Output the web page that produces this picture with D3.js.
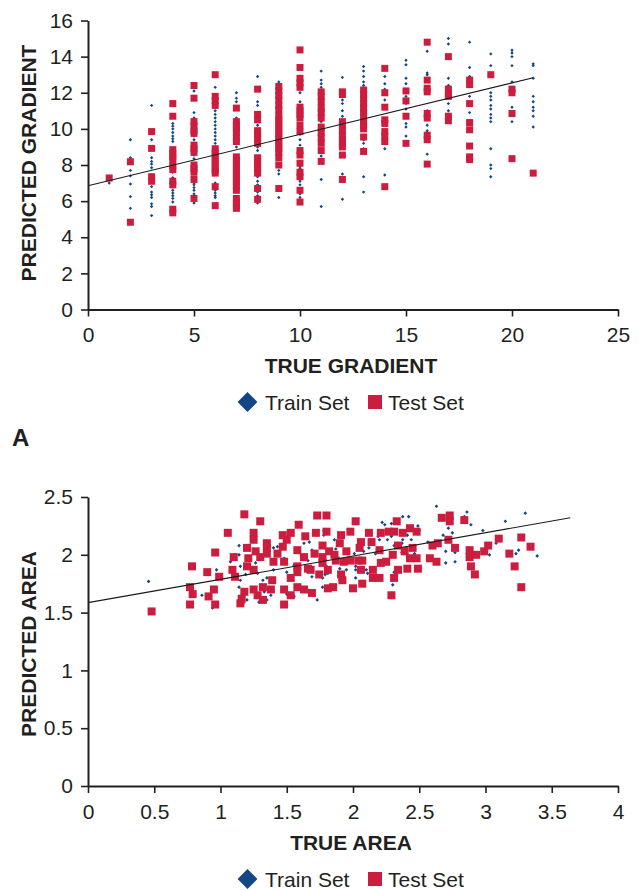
<!DOCTYPE html>
<html><head><meta charset="utf-8">
<script src="https://cdn.jsdelivr.net/npm/d3@7"></script>
<style>
body{margin:0;background:#fff;}
text{font-family:"Liberation Sans",Arial,Helvetica,sans-serif;fill:#231f20;}
</style></head>
<body><svg id="c" width="641" height="890"></svg>
<script>
// ---------- Panel A data ----------
const gradCols = [1,2,3,4,5,6,7,8,9,10,11,12,13,14,15,16,17,18,19,20,21];
const gradTrain = [
 [7.0],
 [9.4,8.4,7.7,7.4,6.95,6.25,5.6],
 [11.3,9.4,8.4,8.2,8.05,7.85,7.45,6.8,6.5,6.35,6.2,5.85,5.7,5.2],
 [10.3,10.15,10.0,9.8,9.6,9.45,9.3,8.7,8.4,8.1,7.6,7.3,6.6,6.45,6.3,6.15,5.95],
 [12.1,10.9,10.6,10.2,9.6,9.4,9.0,8.55,8.35,7.5,7.0,6.9,6.75,6.6,6.4,5.9],
 [12.3,11.2,11.0,10.8,10.6,10.4,10.2,10.0,9.8,9.6,9.4,9.2,9.0,7.5,7.0,6.6,6.45,6.3,6.2],
 [12.0,11.7,11.5,10.6,10.3,9.0,8.2,6.0,5.8],
 [12.9,11.5,11.3,10.2,9.6,9.0,8.8,7.35,7.1,6.9,6.7,6.5,6.3,6.1,5.9],
 [12.6,12.4,11.6,9.0,7.7,7.5,6.2],
 [12.9,12.0,11.5,10.9,10.5,10.0,9.7,9.4,9.1,8.2,7.9,7.8,7.1,6.9,6.4,6.2],
 [13.2,12.7,12.5,12.3,11.9,10.4,9.5,8.5,7.2,5.7],
 [12.85,11.6,11.4,11.0,10.7,9.0,8.6,7.5,6.1],
 [13.45,13.2,12.9,12.6,12.4,9.4,9.2,8.9,7.35,6.5],
 [12.9,12.5,12.2,11.6,9.6,9.2,8.9,7.45],
 [13.8,13.55,12.8,12.5,12.2,11.8,11.4,11.1,10.3,10.1,9.6],
 [14.3,13.1,13.0,11.0,10.2,9.9,8.6],
 [15.0,14.7,12.8,12.4,12.2,11.9,11.4,11.0,10.8],
 [14.8,13.4,12.9,11.8,10.9],
 [14.15,13.5,12.0,11.8,11.6,11.3,11.1,10.8,10.6,10.4,8.9,8.0,7.8,7.35],
 [14.35,14.2,14.0,13.5,12.6,11.2,10.4],
 [13.6,13.5,12.8,11.8,11.5,11.2,11.0,10.7,10.1]
];
const gradTest = [
 [7.28],
 [8.18,4.83],
 [9.85,8.92,7.35,7.1],
 [11.4,10.7,8.85,8.65,8.45,8.3,7.95,7.75,7.1,6.9,5.55,5.35],
 [12.4,11.7,10.4,10.15,9.9,9.75,9.1,8.9,8.7,8.0,7.8,7.6,7.2,6.15],
 [13.0,11.8,11.55,11.3,8.9,8.7,8.5,8.3,8.1,7.9,7.7,7.55,6.8,5.75],
 [11.15,10.4,10.2,10.0,9.8,9.5,9.3,8.45,8.25,8.05,7.85,7.65,7.45,7.25,7.05,6.85,6.6,6.15,5.95,5.75,5.6],
 [12.2,10.8,10.5,9.9,9.7,9.5,9.2,8.4,8.2,8.0,7.8,7.55,6.7,6.1],
 [12.35,12.1,11.85,11.6,11.3,11.05,10.7,10.5,10.3,10.1,9.9,9.7,9.5,9.3,9.1,8.9,8.7,8.4,8.0,6.7],
 [14.37,13.4,12.8,12.55,12.3,11.2,11.0,10.8,10.6,10.2,9.85,8.8,8.55,8.1,7.6,7.35,6.6,5.95],
 [12.05,11.8,11.5,11.15,10.9,10.6,10.1,9.8,9.5,9.2,8.8,8.2],
 [12.05,11.9,10.4,10.2,9.9,9.65,9.4,9.2,9.0,8.55,7.2],
 [12.15,11.9,11.65,11.4,11.15,10.9,10.65,10.4,10.2,10.0,9.55,8.75],
 [13.35,12.0,11.2,10.5,10.3,9.85,9.6,9.3,6.8],
 [12.1,11.55,10.7,9.2],
 [14.8,12.7,12.25,12.05,10.85,10.6,9.65,9.4,8.05],
 [14.0,12.2,11.95,11.8,10.7,10.45],
 [12.7,12.45,11.4,10.35,9.95,9.05,8.45,8.3],
 [13.0],
 [12.2,12.0,10.85,8.35],
 [7.55]
];
const gradTrend = [[0,6.85],[21,12.83]];
const gradXTicks = [0,5,10,15,20,25];
const gradYTicks = [0,2,4,6,8,10,12,14,16];

// ---------- Panel B data ----------
const areaTrain = [
 [0.457,1.77],[0.86,1.65],[0.94,1.54],[0.97,1.87],[1.075,1.94],[1.14,2.08],[1.14,2.00],[1.15,1.90],[1.19,1.83],[1.15,1.78],
 [1.14,1.72],[1.265,1.93],[1.28,1.84],[1.32,1.78],[1.35,1.80],[1.40,1.87],[1.43,2.07],[1.40,2.06],[1.33,1.68],[1.35,1.61],
 [1.29,1.59],[1.20,1.61],[1.17,1.58],[1.48,1.97],[1.555,1.91],[1.66,1.95],[1.69,2.04],[1.63,2.10],[1.67,2.11],[1.78,2.21],
 [1.80,1.90],[1.81,1.84],[1.77,1.72],[1.69,1.81],[1.73,1.61],[1.555,1.64],[1.50,1.66],[1.38,1.65],[1.50,1.85],[1.21,2.08],
 [2.63,2.42],[2.86,2.37],[2.84,2.33],[3.30,2.36],[3.15,2.29],[2.98,2.21],[2.89,2.26],[2.75,2.19],[2.72,2.23],[2.68,2.17],
 [2.50,2.21],[2.49,2.25],[2.49,2.18],[2.375,2.33],[2.42,2.33],[2.29,2.27],[2.24,2.26],[2.22,2.28],[2.20,2.13],[2.19,2.16],
 [2.26,2.13],[2.29,2.16],[2.41,2.17],[2.44,2.13],[2.375,2.13],[2.565,2.11],[2.70,2.03],[2.77,2.02],[2.70,1.93],[2.77,1.94],
 [2.88,2.03],[3.03,2.00],[3.08,2.10],[3.23,2.01],[3.25,2.04],[3.39,1.99],[2.31,2.08],[2.37,2.10],[2.40,2.06],[2.37,2.02],
 [2.465,2.01],[2.01,2.01],[2.06,2.10],[2.12,2.06],[2.17,2.01],[1.78,2.17],[1.86,2.13],[1.87,2.05],[1.90,1.88],[1.95,1.87],
 [1.96,1.93],[1.77,1.80],[1.79,1.83],[2.02,1.90],[2.02,1.87],[2.08,2.03],[2.31,1.85],[2.33,1.84],[2.30,1.74],[2.02,1.80],
 [1.90,1.78],[1.92,1.78],[1.82,1.70],[2.11,1.84],[2.10,1.87]
];
const areaTest = [
 [0.48,1.51],[1.18,2.35],[1.30,2.29],[1.055,2.19],[0.96,2.02],[0.785,1.90],[0.90,1.85],[0.99,1.81],[1.09,1.87],[1.11,1.81],
 [0.77,1.72],[0.79,1.66],[0.77,1.57],[0.95,1.70],[0.91,1.64],[0.96,1.57],[1.18,1.68],[1.16,1.62],[1.28,1.65],[1.32,1.72],
 [1.39,1.78],[1.48,1.57],[1.48,1.70],[1.53,1.65],[1.58,1.72],[1.63,1.70],[1.69,1.67],[1.53,1.80],[1.58,1.85],[1.68,1.87],
 [1.745,1.83],[1.25,2.19],[1.25,2.13],[1.35,2.10],[1.20,2.06],[1.265,2.03],[1.30,1.98],[1.35,2.01],[1.21,1.97],[1.20,1.90],
 [1.25,1.87],[1.43,2.01],[1.47,2.07],[1.47,2.17],[1.53,2.19],[1.50,2.13],[1.59,2.26],[1.64,2.16],[1.72,2.19],[1.73,2.34],
 [1.58,2.04],[1.63,1.98],[1.71,2.01],[1.77,2.08],[1.77,1.98],[1.40,1.94],[1.48,1.94],[1.58,1.90],[1.66,1.88],[1.25,1.70],
 [1.15,1.58],[1.32,1.61],[1.38,1.70],[1.10,1.98],[1.35,2.06],
 [1.80,2.34],[1.80,2.20],[2.02,2.29],[1.98,2.20],[1.91,2.17],[1.90,2.10],[1.82,2.03],[1.86,2.00],[1.95,2.03],[2.06,2.11],
 [2.05,2.06],[2.12,2.19],[2.14,2.11],[2.20,2.04],[2.21,2.19],[2.27,2.20],[2.31,2.20],[2.33,2.29],[2.375,2.19],[2.43,2.23],
 [2.48,2.20],[2.34,2.08],[2.45,2.06],[1.77,1.93],[1.87,1.95],[1.93,1.94],[1.98,1.95],[2.04,1.95],[2.07,1.95],[1.81,1.87],
 [1.91,1.83],[1.92,1.78],[2.06,1.87],[2.15,1.87],[2.15,1.80],[2.20,1.80],[2.21,1.93],[2.25,1.94],[2.30,2.00],[2.39,2.03],
 [2.34,1.87],[2.31,1.80],[2.43,1.97],[2.41,1.88],[2.48,1.97],[2.49,1.88],[2.58,1.97],[2.63,1.94],[2.60,2.08],[2.64,2.10],
 [2.67,2.32],[2.73,2.34],[2.73,2.29],[2.72,2.13],[2.77,2.06],[2.84,2.30],[1.81,1.71],[1.85,1.72],[2.00,1.71],[2.07,1.75],
 [2.29,1.65],[2.88,2.04],[2.88,1.98],[2.93,2.00],[2.99,2.03],[3.02,2.08],[3.10,2.14],[2.89,1.90],[2.92,1.83],[3.18,2.01],
 [3.22,1.90],[3.27,2.15],[3.34,2.07],[3.27,1.72]
];
const areaTrend = [[0,1.586],[3.64,2.32]];
const areaXTicks = [0,0.5,1,1.5,2,2.5,3,3.5,4];
const areaYTicks = [0,0.5,1,1.5,2,2.5];
const legendLabels = ["Train Set","Test Set"];

// ---------- drawing ----------
const TRAIN = "#124784", TEST = "#cc1d3f", INK = "#231f20";
const FS = 21;
const svg = d3.select("#c");

function panel(opt){
  const g = svg.append("g");
  const x = d3.scaleLinear().domain(opt.xDom).range([88,618]);
  const y = d3.scaleLinear().domain(opt.yDom).range(opt.yRange);
  const yb = opt.yRange[0];

  // train points (small diamonds)
  const ds = opt.dot;
  g.append("g").selectAll("rect").data(opt.train).join("rect")
    .attr("x", -ds/2).attr("y", -ds/2).attr("width", ds).attr("height", ds)
    .attr("transform", d=>`translate(${x(d[0])},${y(d[1])}) rotate(45)`)
    .attr("fill", TRAIN);
  // test points
  const s = opt.sq;
  g.append("g").selectAll("rect").data(opt.test).join("rect")
    .attr("x", d=>x(d[0])-s/2).attr("y", d=>y(d[1])-s/2)
    .attr("width", s).attr("height", s).attr("fill", TEST);
  // trend
  g.append("path").datum(opt.trend)
    .attr("d", d3.line().x(d=>x(d[0])).y(d=>y(d[1])))
    .attr("stroke", "#1a1a1a").attr("stroke-width", 1.1).attr("fill","none");

  // axes
  const ax = g.append("g").attr("transform",`translate(0,${yb})`)
    .call(d3.axisBottom(x).tickValues(opt.xTicks).tickSize(7).tickSizeOuter(0).tickPadding(11).tickFormat(d3.format("")));
  const ay = g.append("g").attr("transform",`translate(88,0)`)
    .call(d3.axisLeft(y).tickValues(opt.yTicks).tickSize(7).tickSizeOuter(0).tickPadding(8).tickFormat(d3.format("")));
  [ax,ay].forEach(a=>{
    a.select(".domain").attr("stroke",INK).attr("stroke-width",2);
    a.selectAll(".tick line").attr("stroke",INK).attr("stroke-width",1.6);
    a.selectAll(".tick text").attr("font-size",FS).attr("fill",INK)
      .style("font-family",'"Liberation Sans",Arial,sans-serif');
  });

  // axis titles
  g.append("text").attr("x",351).attr("y",opt.xTitleY).attr("text-anchor","middle")
    .attr("font-size",FS).attr("font-weight","bold").text(opt.xTitle);
  g.append("text").attr("transform",`translate(36,${opt.yTitleC}) rotate(-90)`)
    .attr("text-anchor","middle").attr("font-size",FS).attr("font-weight","bold").text(opt.yTitle);

  // legend
  const ly = opt.legY;
  g.append("rect").attr("x",-7).attr("y",-7).attr("width",14).attr("height",14)
    .attr("transform",`translate(247.5,${ly}) rotate(45)`).attr("fill",TRAIN);
  g.append("text").attr("x",265).attr("y",ly+7.5).attr("font-size",FS).text(legendLabels[0]);
  g.append("rect").attr("x",368).attr("y",ly-7).attr("width",14).attr("height",14).attr("fill",TEST);
  g.append("text").attr("x",388).attr("y",ly+7.5).attr("font-size",FS).text(legendLabels[1]);
}

const gradTrainPts = gradCols.flatMap((c,i)=>gradTrain[i].map(v=>[c,v]));
const gradTestPts = gradCols.flatMap((c,i)=>gradTest[i].map(v=>[c,v]));

panel({xDom:[0,25], yDom:[0,16], yRange:[309.5,20.5], train:gradTrainPts, test:gradTestPts,
  trend:gradTrend, xTicks:gradXTicks, yTicks:gradYTicks, dot:2.4, sq:7,
  xTitle:"TRUE GRADIENT", yTitle:"PREDICTED GRADIENT", xTitleY:373, yTitleC:163, legY:402});

panel({xDom:[0,4], yDom:[0,2.5], yRange:[786,497], train:areaTrain, test:areaTest,
  trend:areaTrend, xTicks:areaXTicks, yTicks:areaYTicks, dot:2.6, sq:8,
  xTitle:"TRUE AREA", yTitle:"PREDICTED AREA", xTitleY:850, yTitleC:644, legY:879});

svg.append("text").attr("x",12).attr("y",446).attr("font-size",24).attr("font-weight","bold").text("A");
</script></body></html>
